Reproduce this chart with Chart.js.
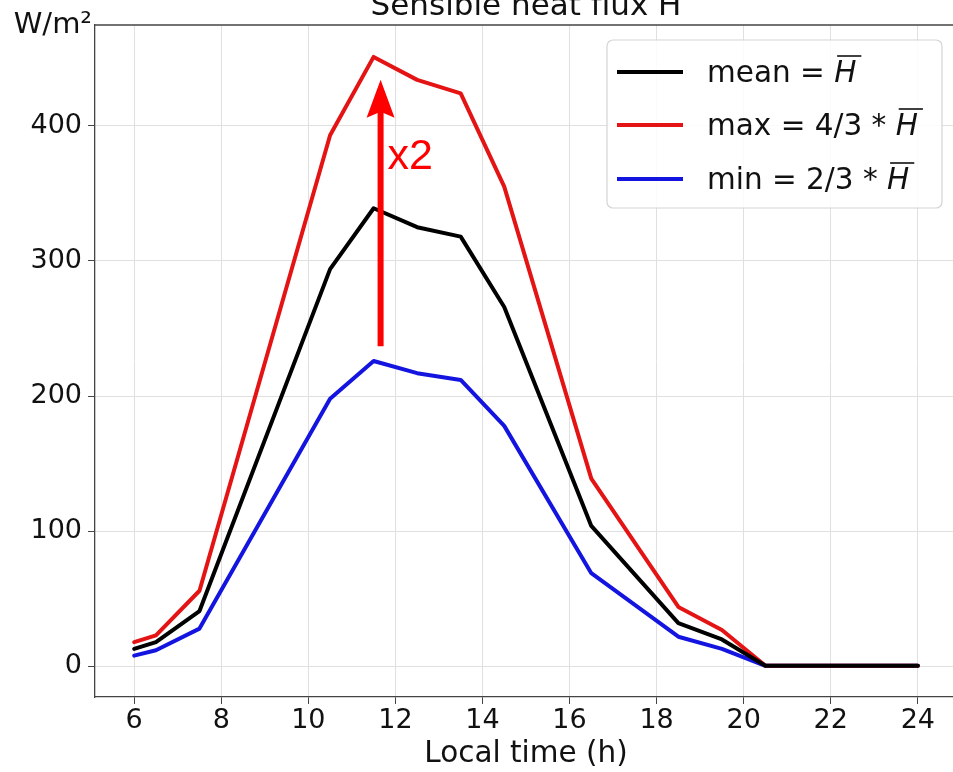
<!DOCTYPE html>
<html lang="en">
<head>
  <meta charset="UTF-8" />
  <title>Sensible heat flux H</title>
  <script src="https://cdn.jsdelivr.net/npm/chart.js"></script>
  <style>
    html, body { margin: 0; padding: 0; background: #fff; overflow: hidden; }
    #wrap { width: 960px; height: 772px; }
  </style>
</head>
<body>
  <div id="wrap"><canvas id="fluxChart" width="960" height="772"></canvas></div>

  <script>
    // local time (h)
    const hours = [6, 6.5, 7.5, 10.5, 11.5, 12.5, 13.5, 14.5, 16.5, 18.5, 19.5, 20.5, 24];
    // W/m2
    const meanFlux = [13, 18, 41, 294, 339, 325, 318, 266, 104, 32, 20, 0.5, 0.5];
    const maxFlux  = [18, 23, 56, 393, 451, 434, 424, 355, 139, 44, 27, 0.5, 0.5];
    const minFlux  = [8, 12, 28, 198, 226, 217, 212, 178, 69, 22, 13, 0.5, 0.5];

    const xTicks = [6, 8, 10, 12, 14, 16, 18, 20, 22, 24];
    const yTicks = [0, 100, 200, 300, 400];

    const seriesNames = ['mean = ', 'max = 4/3 * ', 'min = 2/3 * '];
    const seriesColors = ['#000000', '#e41414', '#1414e0'];

    // the "x2" arrow
    const arrowX = 11.66;
    const arrowFrom = 237;
    const arrowTo = 434;

    const FONT = '"DejaVu Sans", sans-serif';
    const TEXT = '#111';

    function points(ys) {
      return hours.map((h, i) => ({ x: h, y: ys[i] }));
    }

    // text, legend, top spine and arrow that Chart.js can't do on its own
    const extras = {
      id: 'extras',
      afterDatasetsDraw(chart) {
        const ctx = chart.ctx;
        const xs = chart.scales.x, ys = chart.scales.y;
        const area = chart.chartArea;

        // top spine
        ctx.save();
        ctx.strokeStyle = '#444';
        ctx.lineWidth = 1.3;
        ctx.beginPath();
        ctx.moveTo(area.left, area.top);
        ctx.lineTo(area.right, area.top);
        ctx.stroke();

        // red arrow
        const ax = xs.getPixelForValue(arrowX);
        const yTop = ys.getPixelForValue(arrowTo);
        const yBot = ys.getPixelForValue(arrowFrom);
        ctx.strokeStyle = '#ff0000';
        ctx.fillStyle = '#ff0000';
        ctx.lineWidth = 6;
        ctx.beginPath();
        ctx.moveTo(ax, yBot);
        ctx.lineTo(ax, yTop + 30);
        ctx.stroke();
        ctx.beginPath();
        ctx.moveTo(ax, yTop);
        ctx.lineTo(ax - 14, yTop + 38);
        ctx.lineTo(ax, yTop + 32);
        ctx.lineTo(ax + 14, yTop + 38);
        ctx.closePath();
        ctx.fill();
        ctx.font = '43px "Liberation Sans", Arial, sans-serif';
        ctx.textBaseline = 'alphabetic';
        ctx.fillText('x2', ax + 7, yTop + 89);
        ctx.restore();
      },
      afterDraw(chart) {
        const ctx = chart.ctx;
        const area = chart.chartArea;
        ctx.save();
        ctx.fillStyle = TEXT;
        ctx.textBaseline = 'alphabetic';

        // title, clipped at the top like the original
        ctx.font = '31px ' + FONT;
        ctx.textAlign = 'center';
        ctx.fillText('Sensible heat flux H', (area.left + area.right) / 2, 15);

        // unit label
        ctx.font = '29px ' + FONT;
        ctx.textAlign = 'right';
        ctx.fillText('W/m\u00B2', 92, 33);

        // legend box
        const bx = 607, by = 40, bw = 335, bh = 168;
        ctx.beginPath();
        ctx.roundRect(bx, by, bw, bh, 6);
        ctx.fillStyle = 'rgba(255,255,255,0.85)';
        ctx.fill();
        ctx.strokeStyle = '#d4d4d4';
        ctx.lineWidth = 1.2;
        ctx.stroke();

        const rows = [72, 125, 179];
        ctx.textAlign = 'left';
        rows.forEach((ry, i) => {
          ctx.strokeStyle = seriesColors[i];
          ctx.lineWidth = 4;
          ctx.beginPath();
          ctx.moveTo(617, ry);
          ctx.lineTo(683, ry);
          ctx.stroke();

          ctx.fillStyle = TEXT;
          ctx.font = '29.5px ' + FONT;
          ctx.fillText(seriesNames[i], 707, ry + 10);
          const w = ctx.measureText(seriesNames[i]).width;
          ctx.font = 'italic 29.5px ' + FONT;
          ctx.fillText('H', 707 + w, ry + 10);
          const hw = ctx.measureText('H').width;
          ctx.strokeStyle = TEXT;
          ctx.lineWidth = 1.6;
          ctx.beginPath();
          ctx.moveTo(707 + w + 3, ry - 16);
          ctx.lineTo(707 + w + hw + 5, ry - 16);
          ctx.stroke();
        });
        ctx.restore();
      }
    };

    const tickFont = { family: FONT, size: 27 };

    const chart = new Chart(document.getElementById('fluxChart'), {
      type: 'line',
      data: {
        datasets: [
          { label: 'mean', data: points(meanFlux), borderColor: seriesColors[0], borderWidth: 4 },
          { label: 'max', data: points(maxFlux), borderColor: seriesColors[1], borderWidth: 4 },
          { label: 'min', data: points(minFlux), borderColor: seriesColors[2], borderWidth: 4 }
        ]
      },
      options: {
        responsive: false,
        animation: false,
        elements: { point: { radius: 0 }, line: { tension: 0, borderJoinStyle: 'round', borderCapStyle: 'round' } },
        layout: { padding: { top: 25, right: 3, left: 0, bottom: 0 } },
        scales: {
          x: {
            type: 'linear',
            min: 5.1,
            max: 24.9,
            afterBuildTicks: s => { s.ticks = xTicks.map(v => ({ value: v })); },
            afterFit: s => { s.height = 75; },
            ticks: { color: TEXT, font: tickFont, padding: 1, maxRotation: 0, autoSkip: false },
            grid: { color: '#e0e0e0', lineWidth: 1, tickColor: '#444', tickLength: 7 },
            border: { color: '#444', width: 1.3 },
            title: {
              display: true,
              text: 'Local time (h)',
              color: TEXT,
              font: { family: FONT, size: 29.5 },
              padding: { top: 0, bottom: 0 }
            }
          },
          y: {
            min: -22.6,
            max: 474.6,
            afterBuildTicks: s => { s.ticks = yTicks.map(v => ({ value: v })); },
            afterFit: s => { s.width = 95; },
            ticks: { color: TEXT, font: tickFont, padding: 6 },
            grid: { color: '#e0e0e0', lineWidth: 1, tickColor: '#444', tickLength: 7 },
            border: { color: '#444', width: 1.3 }
          }
        },
        plugins: {
          legend: { display: false },
          tooltip: { enabled: false }
        }
      },
      plugins: [extras]
    });
  </script>
</body>
</html>
